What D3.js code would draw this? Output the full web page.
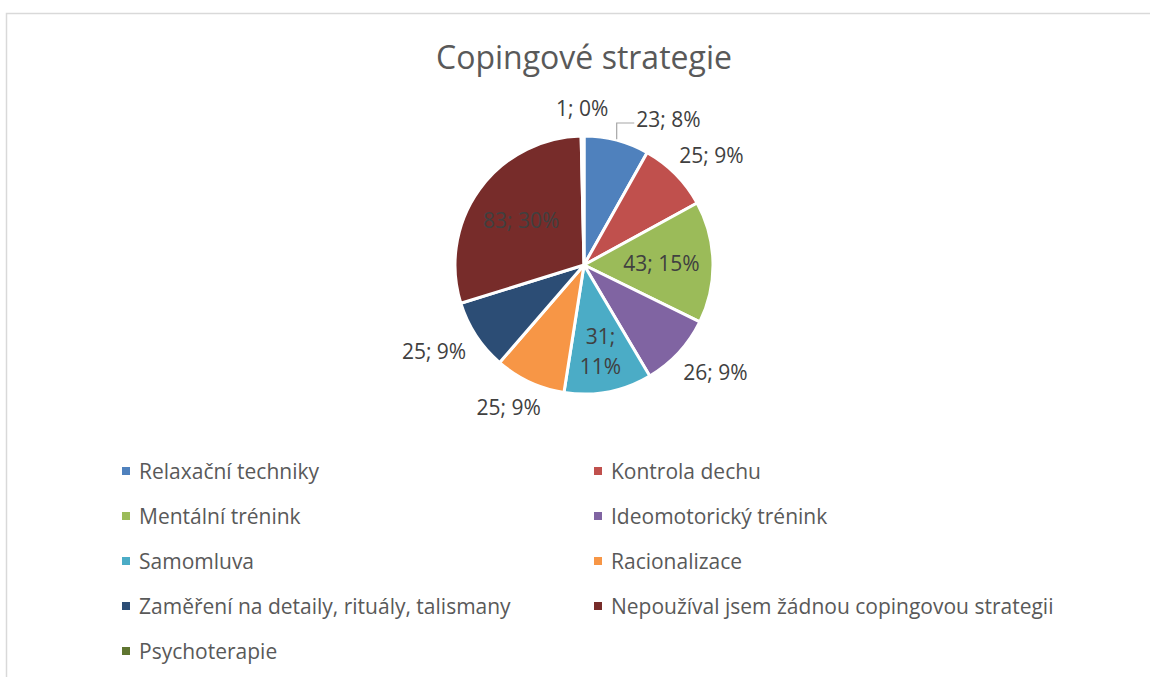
<!DOCTYPE html>
<html>
<head>
<meta charset="utf-8">
<script src="https://cdn.jsdelivr.net/npm/d3@7"></script>
<style>
  body { margin: 0; background: #fff; }
  svg { display: block; font-family: "Open Sans", sans-serif; }
</style>
</head>
<body>
<svg id="chart" width="1150" height="677"></svg>
<script>
// data
const categories = [
  "Relaxační techniky",
  "Kontrola dechu",
  "Mentální trénink",
  "Ideomotorický trénink",
  "Samomluva",
  "Racionalizace",
  "Zaměření na detaily, rituály, talismany",
  "Nepoužíval jsem žádnou copingovou strategii",
  "Psychoterapie"
]
const counts = [23, 25, 43, 26, 31, 25, 25, 83, 1]
const percents = [8, 9, 15, 9, 11, 9, 9, 30, 0]
const colors = ["#4F81BD", "#C0504D", "#9BBB59", "#8064A2", "#4BACC6",
                "#F79646", "#2C4D75", "#772C2A", "#5F7530"]
const title = "Copingové strategie"

const W = 1150, H = 677
const cx = 584, cy = 265, R = 129
const svg = d3.select("#chart")

// chart frame (runs off the bottom / right of the shot)
svg.append("rect")
  .attr("x", 6.5).attr("y", 13.5)
  .attr("width", W + 20).attr("height", H + 20)
  .attr("fill", "none")
  .attr("stroke", "#d9d9d9")
  .attr("stroke-width", 1.5)

svg.append("text")
  .attr("x", cx).attr("y", 69)
  .attr("text-anchor", "middle")
  .attr("fill", "#595959")
  .style("font-size", "32px")
  .text(title)

const rows = categories.map((c, i) => ({ name: c, count: counts[i], pct: percents[i], color: colors[i] }))
const total = d3.sum(counts)

const pie = d3.pie().sort(null).value(d => d.count)
const arcs = pie(rows)
const arc = d3.arc().innerRadius(0).outerRadius(R)

const g = svg.append("g").attr("transform", `translate(${cx},${cy})`)

g.selectAll("path.slice")
  .data(arcs)
  .enter()
  .append("path")
  .attr("class", "slice")
  .attr("d", arc)
  .attr("fill", d => d.data.color)
  .attr("stroke", "#fff")
  .attr("stroke-width", 3)
  .attr("stroke-linejoin", "round")

// labels: big slices inside, the rest just outside the rim
const labelG = g.append("g")
  .attr("fill", "#404040")
  .style("font-size", "21px")

const mid = d => (d.startAngle + d.endAngle) / 2
let outside = []

arcs.forEach(d => {
  const share = d.data.count / total
  const a = mid(d)
  const txt = d.data.count + "; " + d.data.pct + "%"
  const t = labelG.append("text")
    .attr("text-anchor", "middle")
    .attr("dominant-baseline", "central")
  if (share >= 0.1) {
    const rr = R * (share < 0.12 ? 0.68 : 0.6)
    const x = Math.sin(a) * rr, y = -Math.cos(a) * rr
    if (share < 0.12) {
      // narrow slice -> wrap onto two lines
      const parts = txt.split(" ")
      parts.forEach((p, k) => {
        t.append("tspan").attr("x", x).attr("y", y + (k - (parts.length - 1) / 2) * 30).text(p)
      })
    } else {
      t.attr("x", x).attr("y", y).text(txt)
    }
  } else {
    t.text(txt)
    const w = t.node().getComputedTextLength(), h = 20
    const ro = R + 18
    const px = Math.sin(a) * ro, py = -Math.cos(a) * ro
    const box = { d, t, w, h, a,
      x: px + Math.sin(a) * w / 2,
      y: py - Math.cos(a) * h / 2, moved: false }
    outside.push(box)
  }
})

// resolve overlaps: push the more right-hand label further right
const hit = (p, q) => Math.abs(p.x - q.x) < (p.w + q.w) / 2 + 4 && Math.abs(p.y - q.y) < (p.h + q.h) / 2
outside.forEach((p, i) => {
  outside.forEach((q, j) => {
    if (i < j && hit(p, q)) {
      const [l, r] = Math.sin(p.a) < Math.sin(q.a) ? [p, q] : [q, p]
      r.x = l.x + l.w / 2 + 28 + r.w / 2
      r.y = l.y + 11
      r.moved = true
    }
  })
})

outside.forEach(b => {
  b.t.attr("x", b.x).attr("y", b.y)
  if (b.moved) {
    const ax = Math.sin(b.a) * R, ay = -Math.cos(b.a) * R
    const ly = b.y + 4
    labelG.append("path")
      .attr("d", `M${ax},${ay - 1}V${ly}H${b.x - b.w / 2 - 2}`)
      .attr("fill", "none")
      .attr("stroke", "#a6a6a6")
      .attr("stroke-width", 1.2)
  }
})

// legend, two columns
const legRow = d3.scalePoint().domain(d3.range(5)).range([471, 651])
const legCol = d3.scalePoint().domain([0, 1]).range([122, 594])

const leg = svg.append("g")
  .selectAll("g")
  .data(rows)
  .enter()
  .append("g")
  .attr("transform", (d, i) => `translate(${legCol(i % 2)},${legRow(Math.floor(i / 2))})`)

leg.append("rect")
  .attr("x", 0).attr("y", -4)
  .attr("width", 8).attr("height", 8)
  .attr("fill", d => d.color)

leg.append("text")
  .attr("x", 17)
  .attr("dy", "0.36em")
  .attr("fill", "#595959")
  .style("font-size", "21px")
  .text(d => d.name)
</script>
</body>
</html>
